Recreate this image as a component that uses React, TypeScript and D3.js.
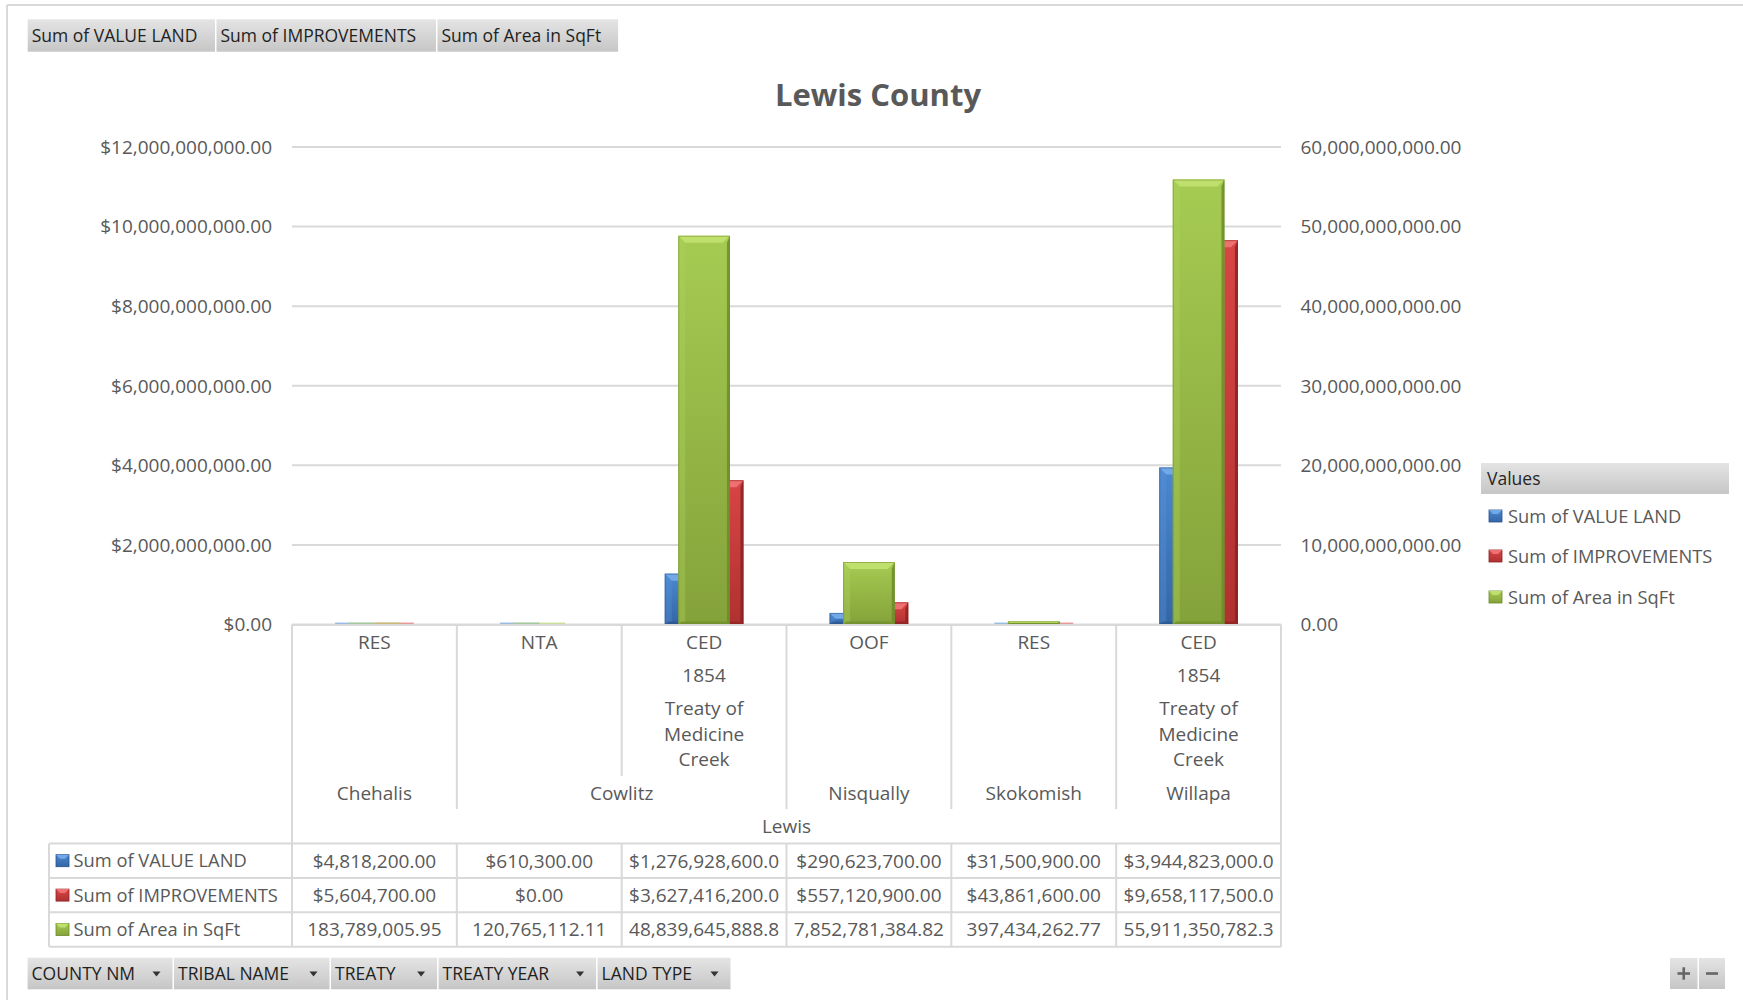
import React from "react";
import * as d3 from "d3";

// ---------- data ----------
const landTypes = ["RES", "NTA", "CED", "OOF", "RES", "CED"];
const treatyYears = ["", "", "1854", "", "", "1854"];
const treaties = ["", "", "Treaty of Medicine Creek", "", "", "Treaty of Medicine Creek"];
const tribes = ["Chehalis", "Cowlitz", "Cowlitz", "Nisqually", "Skokomish", "Willapa"];
const countyName = "Lewis";

const valueLand = [4818200, 610300, 1276928600, 290623700, 31500900, 3944823000];
const improvements = [5604700, 0, 3627416200, 557120900, 43861600, 9658117500];
const areaSqFt = [183789005.95, 120765112.11, 48839645888.8, 7852781384.82, 397434262.77, 55911350782.3];

const seriesNames = ["Sum of VALUE LAND", "Sum of IMPROVEMENTS", "Sum of Area in SqFt"];
const leftTicks = [0, 2e9, 4e9, 6e9, 8e9, 10e9, 12e9];
const rightTicks = [0, 10e9, 20e9, 30e9, 40e9, 50e9, 60e9];
const fieldButtonsTop = ["Sum of VALUE LAND", "Sum of IMPROVEMENTS", "Sum of Area in SqFt"];
const fieldButtonsBottom = ["COUNTY NM", "TRIBAL NAME", "TREATY", "TREATY YEAR", "LAND TYPE"];

// ---------- style ----------
const FONT = "'Open Sans', 'Noto Sans', sans-serif";
const TXT = "#595959";
const LINE = "#d9d9d9";
const PAL: Record<string, { top: string; bot: string; bevel: string; edge: string; light: string }> = {
  blue: { top: "#4b88d0", bot: "#3466a6", bevel: "#72a8e6", edge: "#28528c", light: "#5a96da" },
  red: { top: "#d84545", bot: "#b03131", bevel: "#ee7070", edge: "#8a2222", light: "#e05656" },
  green: { top: "#a6cb52", bot: "#84a23a", bevel: "#bfe06c", edge: "#6b892a", light: "#b0d45e" },
};
const seriesColors = ["blue", "red", "green"];

let _ctx: CanvasRenderingContext2D | null = null;
function measure(text: string, size: number, weight = "normal") {
  if (!_ctx) _ctx = document.createElement("canvas").getContext("2d");
  if (!_ctx) return text.length * size * 0.55;
  _ctx.font = `${weight} ${size}px 'Open Sans'`;
  return _ctx.measureText(text).width;
}
function wrap(text: string, maxW: number, size: number) {
  const words = text.split(" ");
  const lines: string[] = [];
  let cur = "";
  words.forEach((w) => {
    const t = cur ? cur + " " + w : w;
    if (cur && measure(t, size) > maxW) {
      lines.push(cur);
      cur = w;
    } else cur = t;
  });
  if (cur) lines.push(cur);
  return lines;
}
function fitText(text: string, maxW: number, size: number) {
  let t = text;
  while (t.length > 1 && measure(t, size) > maxW) t = t.slice(0, -1);
  return t;
}

function Bar({ x, y, w, h, c }: { x: number; y: number; w: number; h: number; c: string }) {
  const p = PAL[c];
  if (h <= 0) return null;
  if (h < 3) {
    const hh = Math.max(h, 2);
    return <rect x={x} y={y + h - hh} width={w} height={hh} fill={p.light} opacity={0.55} />;
  }
  const b = Math.min(7, h / 2, w / 2);
  const s = Math.min(3, w / 4, h / 2);
  return (
    <g>
      <rect x={x} y={y} width={w} height={h} fill={`url(#g-${c})`} />
      <polygon points={`${x},${y} ${x + w},${y} ${x + w - b},${y + b} ${x + b},${y + b}`} fill={p.bevel} />
      <polygon points={`${x},${y} ${x + b},${y + b} ${x + b},${y + h - s} ${x},${y + h}`} fill={p.light} opacity={0.35} />
      <polygon points={`${x + w},${y} ${x + w},${y + h} ${x + w - s},${y + h - s} ${x + w - s},${y + b}`} fill={p.edge} opacity={0.8} />
      <polygon points={`${x},${y + h} ${x + w},${y + h} ${x + w - s},${y + h - s} ${x + s},${y + h - s}`} fill={p.edge} opacity={0.6} />
      <rect x={x + 0.5} y={y + 0.5} width={w - 1} height={h - 1} fill="none" stroke={p.edge} strokeOpacity={0.5} strokeWidth={1} />
    </g>
  );
}

function Key({ x, y, c }: { x: number; y: number; c: string }) {
  const p = PAL[c];
  return (
    <g>
      <rect x={x} y={y} width={13} height={12} fill={`url(#g-${c})`} stroke={p.edge} strokeWidth={0.8} />
      <polygon points={`${x},${y} ${x + 13},${y} ${x + 9},${y + 4} ${x + 4},${y + 4}`} fill={p.bevel} />
    </g>
  );
}

function FieldButton({ x, y, w, h, label, arrow }: { x: number; y: number; w: number; h: number; label: string; arrow?: boolean }) {
  return (
    <g>
      <rect x={x} y={y} width={w} height={h} fill="url(#g-btn)" />
      <text x={x + 4} y={y + h / 2} dy="0.36em" fontFamily={FONT} fontSize={17.5} fill="#1f1f1f">
        {label}
      </text>
      {arrow && (
        <polygon points={`${x + w - 20},${y + h / 2 - 2} ${x + w - 12},${y + h / 2 - 2} ${x + w - 16},${y + h / 2 + 3}`} fill="#333" />
      )}
    </g>
  );
}

export default function App() {
  const W = 1743;
  const H = 1000;
  const left = 292;
  const right = 1281;
  const top = 147;
  const base = 624.5;

  const idx = landTypes.map((_, i) => String(i));
  const x = d3.scaleBand().domain(idx).range([left, right]).paddingInner(0).paddingOuter(0);
  const bw = x.bandwidth();
  const xPrim = d3.scaleBand().domain(["land", "impr"]).range([0, bw]).paddingInner(0).paddingOuter(1.095);
  const xSec = d3.scaleBand().domain(["area"]).range([0, bw]).paddingInner(0).paddingOuter(1.095);
  const yL = d3.scaleLinear().domain([0, 12e9]).range([base, top]);
  const yR = d3.scaleLinear().domain([0, 60e9]).range([base, top]);
  const fmt2 = d3.format(",.2f");
  const money = (v: number) => "$" + fmt2(v);

  const FS = 19;
  const dy = "0.36em";

  // row positions
  const yLand = 642;
  const yYear = 675;
  const yTreaty = 708.5;
  const treatyLH = 25.5;
  const yTribe = 793;
  const yCounty = 826.5;
  const tableTop = 843.5;
  const rowH = 34.4;
  const tableLeft = 49;

  // group spans for tribes
  const tribeGroups: { name: string; start: number; end: number }[] = [];
  tribes.forEach((t, i) => {
    const g = tribeGroups[tribeGroups.length - 1];
    if (g && g.name === t) g.end = i;
    else tribeGroups.push({ name: t, start: i, end: i });
  });

  const boundaries = idx.slice(1).map((_, k) => k + 1);

  const tableRows = [
    { name: seriesNames[0], c: "blue", vals: valueLand.map(money) },
    { name: seriesNames[1], c: "red", vals: improvements.map(money) },
    { name: seriesNames[2], c: "green", vals: areaSqFt.map(fmt2) },
  ];

  const topBtnX = [27.7, 216.5, 437.5, 619.6];
  const botBtnX = [27.6, 174, 331, 438.6, 597.6, 732];

  return (
    <svg width={W} height={H} style={{ position: "absolute", left: 0, top: 0, display: "block", background: "#fff" }}>
      <defs>
        {Object.keys(PAL).map((c) => (
          <linearGradient key={c} id={`g-${c}`} x1="0" y1="0" x2="0" y2="1">
            <stop offset="0" stopColor={PAL[c].top} />
            <stop offset="1" stopColor={PAL[c].bot} />
          </linearGradient>
        ))}
        <linearGradient id="g-btn" x1="0" y1="0" x2="0" y2="1">
          <stop offset="0" stopColor="#e4e4e4" />
          <stop offset="1" stopColor="#c6c6c6" />
        </linearGradient>
      </defs>

      {/* frame */}
      <line x1={7} y1={5} x2={W} y2={5} stroke={LINE} strokeWidth={2} />
      <line x1={7} y1={5} x2={7} y2={H} stroke={LINE} strokeWidth={2} />

      {/* top field buttons */}
      {fieldButtonsTop.map((l, i) => (
        <FieldButton key={l} x={topBtnX[i]} y={19.3} w={topBtnX[i + 1] - topBtnX[i] - 1.5} h={32.4} label={l} />
      ))}

      {/* title */}
      <text x={878} y={106} textAnchor="middle" fontFamily={FONT} fontWeight="bold" fontSize={31} fill={TXT}>
        Lewis County
      </text>

      {/* gridlines */}
      {leftTicks.map((t) => (
        <line key={t} x1={left} x2={right} y1={yL(t)} y2={yL(t)} stroke={LINE} strokeWidth={2} />
      ))}
      {/* left axis labels */}
      {leftTicks.map((t) => (
        <text key={t} x={272} y={yL(t)} dy={dy} textAnchor="end" fontFamily={FONT} fontSize={FS} fill={TXT}>
          {money(t)}
        </text>
      ))}
      {/* right axis labels */}
      {rightTicks.map((t) => (
        <text key={t} x={1300.5} y={yR(t)} dy={dy} fontFamily={FONT} fontSize={FS} fill={TXT}>
          {fmt2(t)}
        </text>
      ))}

      {/* primary bars */}
      {idx.map((k, i) => {
        const x0 = x(k) as number;
        const hl = base - yL(valueLand[i]);
        const hi = base - yL(improvements[i]);
        return (
          <g key={"p" + k}>
            <Bar x={x0 + (xPrim("land") as number)} y={yL(valueLand[i])} w={xPrim.bandwidth()} h={hl} c="blue" />
            <Bar x={x0 + (xPrim("impr") as number)} y={yL(improvements[i])} w={xPrim.bandwidth()} h={hi} c="red" />
          </g>
        );
      })}
      {/* secondary bars */}
      {idx.map((k, i) => {
        const x0 = x(k) as number;
        return (
          <Bar key={"s" + k} x={x0 + (xSec("area") as number)} y={yR(areaSqFt[i])} w={xSec.bandwidth()} h={base - yR(areaSqFt[i])} c="green" />
        );
      })}

      {/* axis table lines */}
      <line x1={left} x2={right} y1={base + 0.5} y2={base + 0.5} stroke={LINE} strokeWidth={2} />
      <line x1={left} x2={left} y1={base} y2={tableTop + rowH * 3} stroke={LINE} strokeWidth={2} />
      <line x1={right} x2={right} y1={base} y2={tableTop + rowH * 3} stroke={LINE} strokeWidth={2} />
      {boundaries.map((b) => {
        const xb = x(String(b)) as number;
        const sameTribe = tribes[b] === tribes[b - 1];
        return <line key={"b" + b} x1={xb} x2={xb} y1={base} y2={sameTribe ? 776 : 809} stroke={LINE} strokeWidth={2} />;
      })}

      {/* category labels */}
      {idx.map((k, i) => {
        const cx = (x(k) as number) + bw / 2;
        const lines = treaties[i] ? wrap(treaties[i], 100, FS) : [];
        return (
          <g key={"c" + k} fontFamily={FONT} fontSize={FS} fill={TXT} textAnchor="middle">
            <text x={cx} y={yLand} dy={dy}>{landTypes[i]}</text>
            {treatyYears[i] && <text x={cx} y={yYear} dy={dy}>{treatyYears[i]}</text>}
            {lines.map((l, j) => (
              <text key={j} x={cx} y={yTreaty + j * treatyLH} dy={dy}>{l}</text>
            ))}
          </g>
        );
      })}
      {tribeGroups.map((g) => {
        const x0 = x(String(g.start)) as number;
        const x1 = (x(String(g.end)) as number) + bw;
        return (
          <text key={g.name} x={(x0 + x1) / 2} y={yTribe} dy={dy} textAnchor="middle" fontFamily={FONT} fontSize={FS} fill={TXT}>
            {g.name}
          </text>
        );
      })}
      <text x={(left + right) / 2} y={yCounty} dy={dy} textAnchor="middle" fontFamily={FONT} fontSize={FS} fill={TXT}>
        {countyName}
      </text>

      {/* data table */}
      {[0, 1, 2, 3].map((r) => (
        <line key={"h" + r} x1={tableLeft} x2={right} y1={tableTop + r * rowH} y2={tableTop + r * rowH} stroke={LINE} strokeWidth={2} />
      ))}
      <line x1={tableLeft} x2={tableLeft} y1={tableTop} y2={tableTop + 3 * rowH} stroke={LINE} strokeWidth={2} />
      {boundaries.map((b) => {
        const xb = x(String(b)) as number;
        return <line key={"tv" + b} x1={xb} x2={xb} y1={tableTop} y2={tableTop + 3 * rowH} stroke={LINE} strokeWidth={2} />;
      })}
      {tableRows.map((row, r) => {
        const cy = tableTop + r * rowH + rowH / 2;
        return (
          <g key={row.name}>
            <Key x={56} y={cy - 6} c={row.c} />
            <text x={73.5} y={cy} dy={dy} fontFamily={FONT} fontSize={18.3} fill={TXT}>
              {row.name}
            </text>
            {row.vals.map((v, i) => (
              <text key={i} x={(x(String(i)) as number) + bw / 2} y={cy} dy={dy} textAnchor="middle" fontFamily={FONT} fontSize={FS} fill={TXT}>
                {fitText(v, bw - 6, FS)}
              </text>
            ))}
          </g>
        );
      })}

      {/* legend */}
      <rect x={1481} y={463} width={248} height={31} fill="url(#g-btn)" />
      <text x={1487} y={479} dy={dy} fontFamily={FONT} fontSize={17.5} fill="#262626">
        Values
      </text>
      {seriesNames.map((s, i) => {
        const cy = [516, 556, 597][i];
        return (
          <g key={s}>
            <Key x={1489} y={cy - 6} c={seriesColors[i]} />
            <text x={1508} y={cy} dy={dy} fontFamily={FONT} fontSize={18.3} fill={TXT}>
              {s}
            </text>
          </g>
        );
      })}

      {/* bottom field buttons */}
      {fieldButtonsBottom.map((l, i) => (
        <FieldButton key={l} x={botBtnX[i]} y={957.7} w={botBtnX[i + 1] - botBtnX[i] - 1.5} h={31.6} label={l} arrow />
      ))}

      {/* +/- buttons */}
      <rect x={1670} y={958} width={27.5} height={31} fill="url(#g-btn)" />
      <rect x={1699} y={958} width={26} height={31} fill="url(#g-btn)" />
      <line x1={1677.5} x2={1690} y1={973.5} y2={973.5} stroke="#666" strokeWidth={2.6} />
      <line x1={1683.75} x2={1683.75} y1={967.3} y2={979.7} stroke="#666" strokeWidth={2.6} />
      <line x1={1706} x2={1718} y1={973.5} y2={973.5} stroke="#666" strokeWidth={2.6} />
    </svg>
  );
}
